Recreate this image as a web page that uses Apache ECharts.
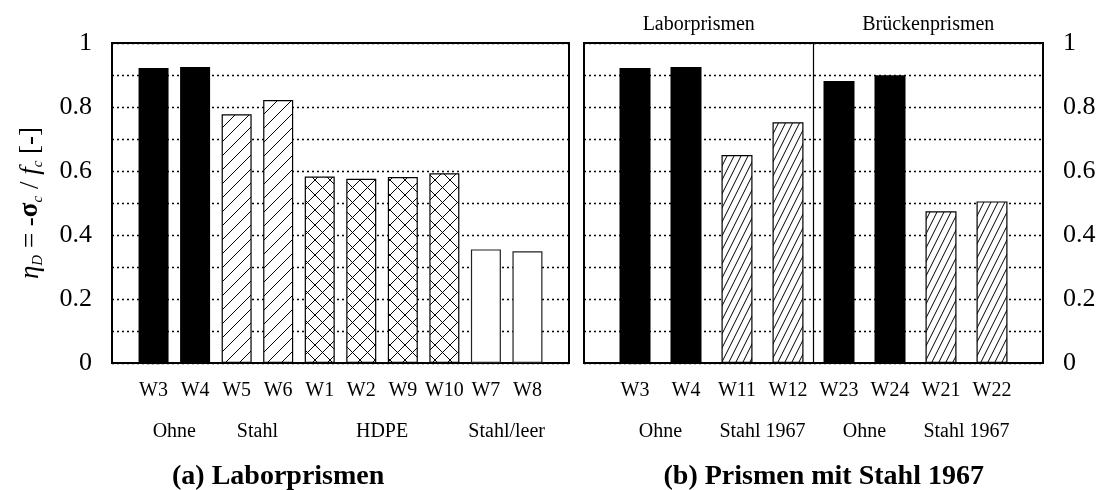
<!DOCTYPE html>
<html>
<head>
<meta charset="utf-8">
<script src="https://cdn.jsdelivr.net/npm/echarts@6/dist/echarts.min.js"></script>
<style>html,body{margin:0;padding:0;background:#fff}#c{width:1106px;height:490px}</style>
</head>
<body>
<div id="c"></div>
<script>
// ---------- data ----------
const leftCategories = ['W3','W4','W5','W6','W1','W2','W9','W10','W7','W8'];
const leftValues     = [0.922,0.925,0.777,0.822,0.583,0.576,0.581,0.593,0.355,0.349];
const leftGroups     = ['Ohne','Ohne','Stahl','Stahl','HDPE','HDPE','HDPE','HDPE','Stahl/leer','Stahl/leer'];

const rightCategories = ['W3','W4','W11','W12','W23','W24','W21','W22'];
const rightValues     = [0.922,0.925,0.650,0.752,0.881,0.899,0.474,0.505];
const rightGroups     = ['Ohne','Ohne','Stahl 1967','Stahl 1967','Ohne','Ohne','Stahl 1967','Stahl 1967'];
const rightSections   = ['Laborprismen','Laborprismen','Laborprismen','Laborprismen','Brückenprismen','Brückenprismen','Brückenprismen','Brückenprismen'];

const yTicks = [0, 0.2, 0.4, 0.6, 0.8, 1];
const titles = ['(a) Laborprismen', '(b) Prismen mit Stahl 1967'];

// ---------- patterns ----------
function tile(w, h, draw) {
  const c = document.createElement('canvas');
  c.width = w; c.height = h;
  const g = c.getContext('2d');
  g.fillStyle = '#fff'; g.fillRect(0, 0, w, h);
  g.strokeStyle = '#000'; g.lineWidth = 1;
  draw(g, w, h);
  return c;
}
function fwd(g, w, h) { for (let k = -1; k <= 1; k++) { g.beginPath(); g.moveTo(k*w, h); g.lineTo(k*w + w, 0); g.stroke(); } }
function bwd(g, w, h) { for (let k = -1; k <= 1; k++) { g.beginPath(); g.moveTo(k*w, 0); g.lineTo(k*w + w, h); g.stroke(); } }
const hatchWide  = { image: tile(14, 14, fwd), repeat: 'repeat' };
const hatchDense = { image: tile(7, 14, fwd), repeat: 'repeat' };
const cross      = { image: tile(15, 15, (g,w,h)=>{ fwd(g,w,h); bwd(g,w,h); }), repeat: 'repeat' };

const leftStyle = {
  'Ohne':       { color: '#000' },
  'Stahl':      { color: hatchWide,  borderColor: '#000', borderWidth: 1.2 },
  'HDPE':       { color: cross,      borderColor: '#000', borderWidth: 1.2 },
  'Stahl/leer': { color: '#fff',     borderColor: '#222', borderWidth: 1.2 }
};
const rightStyle = {
  'Ohne':       { color: '#000' },
  'Stahl 1967': { color: hatchDense, borderColor: '#000', borderWidth: 1.2 }
};

// ---------- helpers ----------
const FONT = 'Liberation Serif';
function groupCenters(groups) {
  const out = [];
  groups.forEach((g, i) => {
    const last = out[out.length - 1];
    if (last && last.name === g && last.end === i - 1) { last.end = i; }
    else out.push({ name: g, start: i, end: i });
  });
  return out.map(o => ({ name: o.name, x: (o.start + o.end) / 2 }));
}
function sectionCenters(sections, lo, hi) {
  const out = groupCenters(sections);
  return out.map((o, k) => {
    const members = sections.map((s,i)=>i).filter(i => sections[i] === o.name);
    const a = k === 0 ? lo : Math.min(...members) - 0.5;
    const b = k === out.length - 1 ? hi : Math.max(...members) + 0.5;
    return { name: o.name, x: (a + b) / 2 };
  });
}
const key = v => Number(v).toFixed(3);

const leftGC = groupCenters(leftGroups);
const rightGC = groupCenters(rightGroups);
const rightSC = sectionCenters(rightSections, -1, rightCategories.length);
const boundaries = [];
for (let i = 1; i < rightSections.length; i++) if (rightSections[i] !== rightSections[i-1]) boundaries.push(i - 0.5);

function catAxis(gridIndex, cats) {
  return {
    type: 'value', gridIndex, min: -1, max: cats.length, interval: 1,
    axisLine: { show: true, onZero: false, lineStyle: { color: '#000', width: 2 } },
    axisTick: { show: false }, splitLine: { show: false },
    axisLabel: { margin: 18, color: '#000', fontFamily: FONT, fontSize: 20,
      formatter: v => cats[Math.round(v)] || '' }
  };
}
function groupAxis(gridIndex, cats, centers, position, offset, margin, fontSize) {
  const map = {}; centers.forEach(c => map[key(c.x)] = c.name);
  return {
    type: 'value', gridIndex, min: -1, max: cats.length, position, offset,
    axisLine: { show: false }, axisTick: { show: false }, splitLine: { show: false },
    axisLabel: { show: true, margin, color: '#000', fontFamily: FONT, fontSize,
      customValues: centers.map(c => c.x), formatter: v => map[key(v)] || '',
      showMinLabel: true, showMaxLabel: true }
  };
}
function yAxis(gridIndex, position, labels, extra) {
  return Object.assign({
    type: 'value', gridIndex, position, min: 0, max: 1, interval: 0.1,
    axisLine: { show: false },
    axisTick: { show: true, inside: true, length: 7, lineStyle: { color: '#000', width: 1.2 } },
    splitLine: { show: labels, lineStyle: { color: '#000', width: 1.3, type: [2, 3] } },
    axisLabel: { show: labels, color: '#000', fontFamily: FONT, fontSize: 26, margin: 20,
      formatter: v => yTicks.some(t => Math.abs(t - v) < 1e-6) ? String(+v.toFixed(1)) : '' }
  }, extra || {});
}

const chart = echarts.init(document.getElementById('c'), null, { renderer: 'canvas' });
const option = {
  animation: false,
  backgroundColor: '#fff',
  grid: [
    { left: 112, right: 537, top: 43, bottom: 127, show: true, borderColor: '#000', borderWidth: 2, outerBoundsMode: 'none' },
    { left: 584, right: 63, top: 43, bottom: 127, show: true, borderColor: '#000', borderWidth: 2, outerBoundsMode: 'none' }
  ],
  xAxis: [
    catAxis(0, leftCategories),
    groupAxis(0, leftCategories, leftGC, 'bottom', 44, 15, 20),
    catAxis(1, rightCategories),
    groupAxis(1, rightCategories, rightGC, 'bottom', 44, 15, 20),
    groupAxis(1, rightCategories, rightSC, 'top', 0, 8, 20)
  ],
  yAxis: [
    yAxis(0, 'left', true, {
      name: '{i|η}{s|D}{n| = -}{b|σ}{s|c}{n| / }{i|f}{s|c}{n| [-]}',
      nameLocation: 'middle', nameRotate: 90, nameGap: 66, nameMoveOverlap: false,
      nameTextStyle: { color: '#000', fontFamily: FONT, fontSize: 27,
        rich: {
          i: { fontFamily: FONT, fontSize: 27, fontStyle: 'italic', color: '#000', lineHeight: 31 },
          n: { fontFamily: FONT, fontSize: 27, color: '#000', lineHeight: 31 },
          b: { fontFamily: FONT, fontSize: 27, fontWeight: 'bold', color: '#000', lineHeight: 31 },
          s: { fontFamily: FONT, fontSize: 15, fontStyle: 'italic', color: '#000', verticalAlign: 'bottom', lineHeight: 15 }
        } }
    }),
    yAxis(0, 'right', false),
    yAxis(1, 'right', true),
    yAxis(1, 'left', false)
  ],
  series: [
    {
      type: 'bar', xAxisIndex: 0, yAxisIndex: 0, barWidth: 30,
      data: leftValues.map((v, i) => ({ value: [i, v], itemStyle: leftStyle[leftGroups[i]] }))
    },
    {
      type: 'bar', xAxisIndex: 2, yAxisIndex: 2, barWidth: 31,
      data: rightValues.map((v, i) => ({ value: [i, v], itemStyle: rightStyle[rightGroups[i]] })),
      markLine: {
        silent: true, symbol: 'none', label: { show: false },
        lineStyle: { color: '#000', width: 1.2, type: 'solid' },
        data: boundaries.map(b => ({ xAxis: b }))
      }
    }
  ]
};
chart.setOption(option);

function addTitles() {
  const lx = chart.convertToPixel({ xAxisIndex: 0 }, 3.0);
  const rx = chart.convertToPixel({ xAxisIndex: 2 }, 3.7);
  chart.setOption({
    graphic: [
      { type: 'text', x: lx, y: 477, style: { text: titles[0], fontFamily: FONT, fontSize: 28, fontWeight: 'bold', fill: '#000', textAlign: 'center', textVerticalAlign: 'middle' } },
      { type: 'text', x: rx, y: 477, style: { text: titles[1], fontFamily: FONT, fontSize: 28, fontWeight: 'bold', fill: '#000', textAlign: 'center', textVerticalAlign: 'middle' } }
    ]
  });
}
addTitles();
</script>
</body>
</html>
